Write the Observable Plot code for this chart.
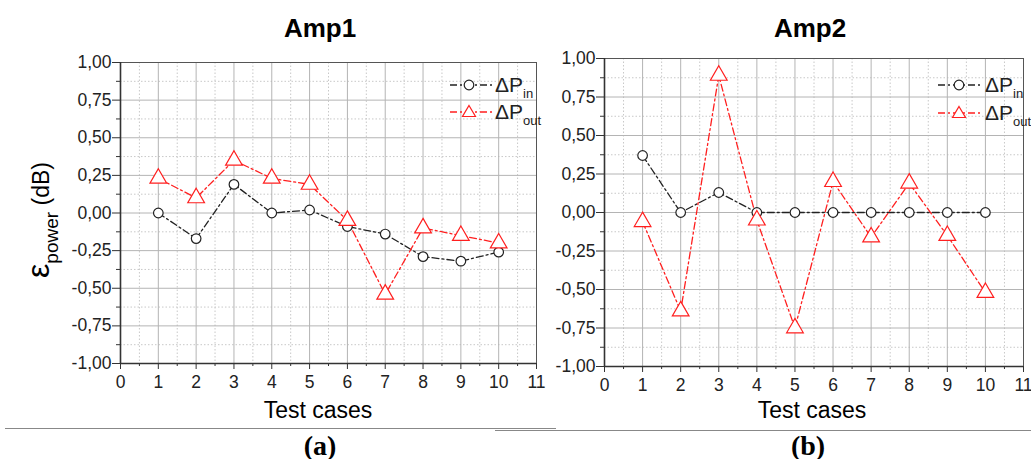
<!DOCTYPE html>
<html><head><meta charset="utf-8">
<script src="https://cdn.jsdelivr.net/npm/d3@7"></script>
<script src="https://cdn.jsdelivr.net/npm/@observablehq/plot@0.6"></script>
<style>
body{margin:0;background:#fff;width:1031px;height:459px;overflow:hidden;position:relative;font-family:"Liberation Sans",Arial,sans-serif;}
.abs{position:absolute;white-space:nowrap;}
.title{font-weight:bold;font-size:26px;transform:translateX(-50%);}
.xlab{font-size:23px;transform:translateX(-50%);}
.cap{font-family:"Liberation Serif","Times New Roman",serif;font-weight:bold;font-size:28px;transform:translateX(-50%);line-height:1;}
.hr{height:1px;background:#888;}
</style></head><body>
<script>
// ---- data ----
const testCases = [1, 2, 3, 4, 5, 6, 7, 8, 9, 10];
const amp1In  = [0.00, -0.17, 0.19, 0.00, 0.02, -0.09, -0.14, -0.29, -0.32, -0.26];
const amp1Out = [0.23, 0.10, 0.35, 0.23, 0.19, -0.05, -0.54, -0.10, -0.15, -0.20];
const amp2In  = [0.37, 0.00, 0.13, 0.00, 0.00, 0.00, 0.00, 0.00, 0.00, 0.00];
const amp2Out = [-0.06, -0.64, 0.89, -0.05, -0.75, 0.20, -0.16, 0.19, -0.15, -0.52];
const xTicks = [0, 1, 2, 3, 4, 5, 6, 7, 8, 9, 10, 11];
const yTicks = [-1, -0.75, -0.5, -0.25, 0, 0.25, 0.5, 0.75, 1];
const panelTitles = ["Amp1", "Amp2"];
const captions = ["(a)", "(b)"];
const xLabel = "Test cases";

const fmt = d => (d < 0 ? "-" : "") + Math.abs(d).toFixed(2).replace(".", ",");
const xMinor = d3.range(0.5, 11, 1);
const yMinor = d3.range(-0.875, 1, 0.25);
const IN_COLOR = "#222", OUT_COLOR = "#ff1f1f";

function panel(inVals, outVals, g) {
  const dIn = testCases.map((t, i) => ({x: t, y: inVals[i]}));
  const dOut = testCases.map((t, i) => ({x: t, y: outVals[i]}));
  const p = Plot.plot({
    width: g.width, height: 459,
    marginLeft: g.ml, marginRight: g.mr, marginTop: g.mt, marginBottom: 459 - g.bottom,
    style: {background: "transparent", fontFamily: "Liberation Sans, Arial, sans-serif", fontSize: "17.5px", overflow: "visible"},
    x: {domain: [0, 11], axis: null},
    y: {domain: [-1, 1], axis: null},
    marks: [
      Plot.gridX(xMinor, {stroke: "#c8c8c8", strokeOpacity: 1, strokeDasharray: "1.5,2"}),
      Plot.gridY(yMinor, {stroke: "#c8c8c8", strokeOpacity: 1, strokeDasharray: "1.5,2"}),
      Plot.gridX(xTicks.slice(1, -1), {stroke: "#b4b4b4", strokeOpacity: 1}),
      Plot.gridY(yTicks.slice(1, -1), {stroke: "#b4b4b4", strokeOpacity: 1}),
      Plot.frame({stroke: "#555"}),
      Plot.axisY(yTicks, {tickSize: 8, tickPadding: 1, tickFormat: fmt, fontSize: 17.5, stroke: "#333", color: "#222", label: null}),
      Plot.axisY(yMinor, {tickSize: 4, tickFormat: () => "", stroke: "#333", label: null}),
      Plot.axisX(xTicks, {tickSize: 6, tickPadding: 6, fontSize: 17.5, stroke: "#333", color: "#222", label: null}),
      Plot.axisX(xMinor, {tickSize: 3, tickFormat: () => "", stroke: "#333", label: null}),
      Plot.ruleX([0], {stroke: "#333", strokeWidth: 1.6}),
      Plot.ruleY([-1], {stroke: "#333", strokeWidth: 1.6}),
      Plot.line(dIn, {x: "x", y: "y", stroke: IN_COLOR, strokeWidth: 1.3, strokeDasharray: "7,3,2,3"}),
      Plot.line(dOut, {x: "x", y: "y", stroke: OUT_COLOR, strokeWidth: 1.3, strokeDasharray: "7,3,2,3"}),
      Plot.dot(dIn, {x: "x", y: "y", symbol: "circle", r: 4.8, stroke: IN_COLOR, fill: "white", strokeWidth: 1.2}),
      Plot.dot(dOut, {x: "x", y: "y", symbol: "triangle", r: 6.2, stroke: OUT_COLOR, fill: "white", strokeWidth: 1.2})
    ]
  });
  p.style.position = "absolute";
  p.style.left = g.left + "px";
  p.style.top = "0px";
  p.style.overflow = "visible";
  document.body.appendChild(p);
}

panel(amp1In, amp1Out, {left: 0, width: 560, ml: 120, mr: 24, mt: 62, bottom: 363});
panel(amp2In, amp2Out, {left: 524, width: 507, ml: 80, mr: 8, mt: 58, bottom: 366});

function addDiv(cls, html, left, top, extra) {
  const d = document.createElement("div");
  d.className = "abs " + cls;
  d.innerHTML = html;
  d.style.left = left + "px";
  d.style.top = top + "px";
  if (extra) Object.assign(d.style, extra);
  document.body.appendChild(d);
  return d;
}

// titles, axis labels, captions
addDiv("title", panelTitles[0], 320, 13);
addDiv("title", panelTitles[1], 810, 13);
addDiv("xlab", xLabel, 318, 397);
addDiv("xlab", xLabel, 812, 397);
addDiv("hr", "", 5, 428, {width: "551px"});
addDiv("hr", "", 495, 430, {width: "536px"});
addDiv("cap", captions[0], 320, 432);
addDiv("cap", captions[1], 808, 432);

// y-axis label
addDiv("", '<span style="font-size:32px">ε</span><span style="font-size:19px;position:relative;top:9px">power</span><span style="font-size:23px">&nbsp;(dB)</span>',
  38, 220, {transform: "translate(-50%,-50%) rotate(-90deg)", lineHeight: "1"});

// legends
function legend(x0, x1, cx, tx, y, color, sym, sub) {
  const w = 140;
  const s = document.createElementNS("http://www.w3.org/2000/svg", "svg");
  s.setAttribute("width", w); s.setAttribute("height", 30);
  s.style.position = "absolute"; s.style.left = (x0 - 2) + "px"; s.style.top = (y - 15) + "px";
  const ox = x0 - 2, oy = y - 15;
  let markSvg;
  if (sym === "circle") markSvg = `<circle cx="${cx-ox}" cy="${y-oy}" r="4.8" fill="white" stroke="${color}" stroke-width="1.2"/>`;
  else {
    const c = cx - ox, cy = y - oy;
    markSvg = `<path d="M${c},${cy-6.5}L${c+6.5},${cy+4.5}L${c-6.5},${cy+4.5}Z" fill="white" stroke="${color}" stroke-width="1.2"/>`;
  }
  s.innerHTML = `<line x1="${x0-ox}" x2="${x1-ox}" y1="${y-oy}" y2="${y-oy}" stroke="${color}" stroke-width="1.3" stroke-dasharray="7,3,2,3"/>` + markSvg +
    `<text x="${tx-ox}" y="${y-oy+7}" font-size="21" font-family="Liberation Sans, Arial, sans-serif" fill="#222">ΔP<tspan font-size="13" dy="6">${sub}</tspan></text>`;
  document.body.appendChild(s);
}
legend(450, 492, 469, 495, 85, IN_COLOR, "circle", "in");
legend(450, 492, 469, 495, 112, OUT_COLOR, "triangle", "out");
legend(938, 982, 959, 985, 85, IN_COLOR, "circle", "in");
legend(938, 982, 959, 985, 113, OUT_COLOR, "triangle", "out");
</script>
</body></html>
